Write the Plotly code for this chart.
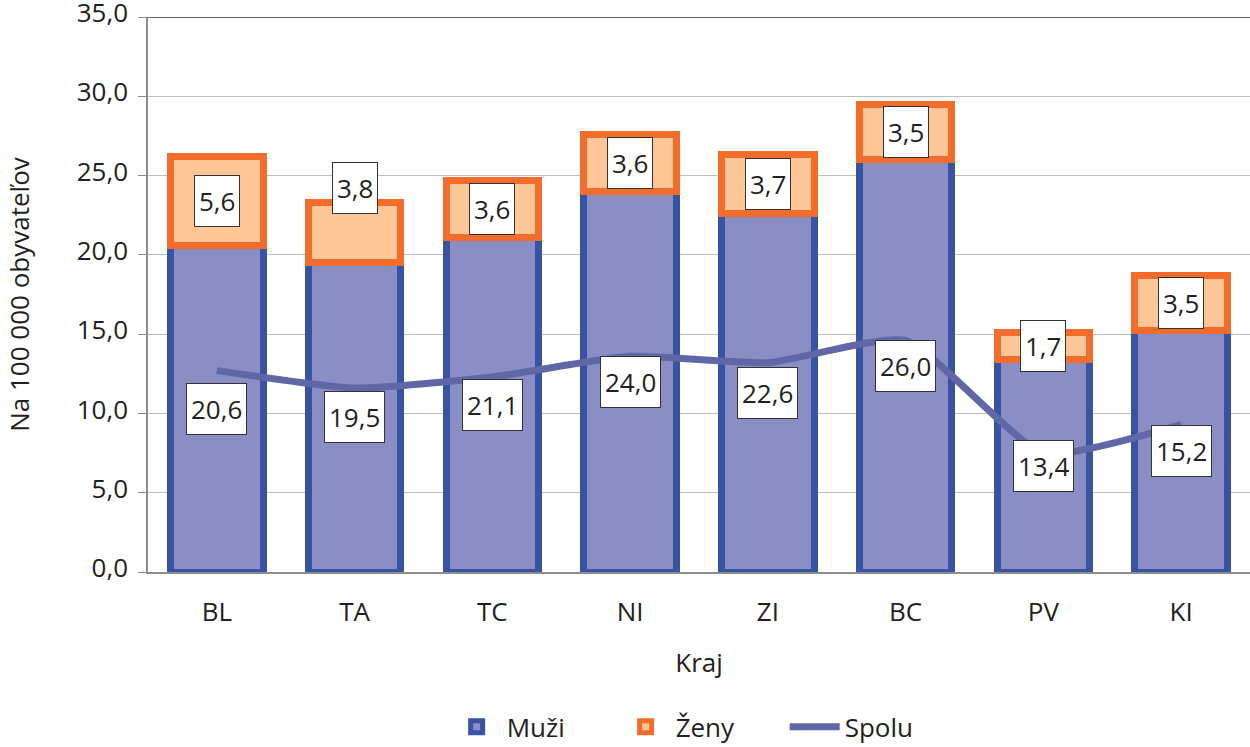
import plotly.graph_objects as go

# ---- data ----
kraje = ["BL", "TA", "TC", "NI", "ZI", "BC", "PV", "KI"]
muzi = [20.6, 19.5, 21.1, 24.0, 22.6, 26.0, 13.4, 15.2]
zeny = [5.6, 3.8, 3.6, 3.6, 3.7, 3.5, 1.7, 3.5]
spolu = [12.7, 11.6, 12.3, 13.6, 13.2, 14.6, 7.5, 9.3]
y_ticks = [0, 5, 10, 15, 20, 25, 30, 35]

# ---- styles ----
FONT = "Open Sans"
FS = 26
TXT = "#231F20"
MUZI_FILL, MUZI_LINE = "#8A8EC4", "#3853A4"
ZENY_FILL, ZENY_LINE = "#FCC697", "#F26C2B"
SPOLU_COL = "#5F67A6"
label_nudge_px = {"TA": 45}  # manual label offset seen in the reference

fig = go.Figure()
fig.add_trace(go.Bar(
    name="Muži", x=kraje, y=muzi,
    marker=dict(color=MUZI_FILL, line=dict(color=MUZI_LINE, width=7)),
))
fig.add_trace(go.Bar(
    name="Ženy", x=kraje, y=zeny,
    marker=dict(color=ZENY_FILL, line=dict(color=ZENY_LINE, width=7)),
))
fig.add_trace(go.Scatter(
    name="Spolu", x=kraje, y=spolu, mode="lines",
    line=dict(color=SPOLU_COL, width=7, shape="spline", smoothing=0.5),
))

def fmt(v):
    return f"{v:.1f}".replace(".", ",")

annotations = []
for k, m, z in zip(kraje, muzi, zeny):
    annotations.append(dict(
        x=k, y=m / 2, xref="x", yref="y", text=fmt(m), showarrow=False,
        bgcolor="white", bordercolor="#333333", borderwidth=1, borderpad=4,
        height=42, font=dict(family=FONT, size=FS, color=TXT),
    ))
    annotations.append(dict(
        x=k, y=m + z / 2, xref="x", yref="y", text=fmt(z), showarrow=False,
        yshift=label_nudge_px.get(k, 0),
        bgcolor="white", bordercolor="#333333", borderwidth=1, borderpad=4,
        height=42, font=dict(family=FONT, size=FS, color=TXT),
    ))

fig.update_layout(
    width=1250, height=747,
    margin=dict(l=148, r=0, t=17, b=175, autoexpand=False),
    paper_bgcolor="white", plot_bgcolor="white",
    barmode="stack", bargap=0.33,
    separators=", ",
    font=dict(family=FONT, size=FS, color=TXT),
    showlegend=True,
    legend=dict(
        orientation="h", x=0.271, xanchor="left", y=-0.279, yanchor="middle",
        font=dict(family=FONT, size=FS, color=TXT),
        entrywidth=104, itemwidth=50,
        traceorder="normal",
    ),
    annotations=annotations,
    shapes=[dict(type="line", xref="paper", yref="y", x0=0, x1=1, y0=35, y1=35,
                 line=dict(color="#333333", width=1.5))],
)
fig.update_xaxes(
    automargin=False,
    showline=True, linecolor="#8C8C8C", linewidth=1.5,
    showgrid=False, ticks="", ticklabelstandoff=16,
    tickfont=dict(family=FONT, size=FS, color=TXT),
    title=dict(text="Kraj", standoff=26, font=dict(family=FONT, size=FS, color=TXT)),
)
fig.update_yaxes(
    automargin=False,
    range=[0, 35], tickvals=y_ticks, tickformat=".1f",
    ticklabeloverflow="allow", ticklabelstandoff=5, ticklabelshift=-4,
    showline=True, linecolor="#8C8C8C", linewidth=1.5,
    showgrid=True, gridcolor="#BDBDBD", gridwidth=1,
    ticks="outside", ticklen=8, tickcolor="#8C8C8C",
    tickfont=dict(family=FONT, size=FS, color=TXT),
    zeroline=False,
    title=dict(text="Na 100 000 obyvateľov", standoff=40,
               font=dict(family=FONT, size=FS, color=TXT)),
)

fig.write_html("out.html",
               config={"displayModeBar": False},
               post_script="document.body.style.margin='0';document.body.style.padding='0';")
